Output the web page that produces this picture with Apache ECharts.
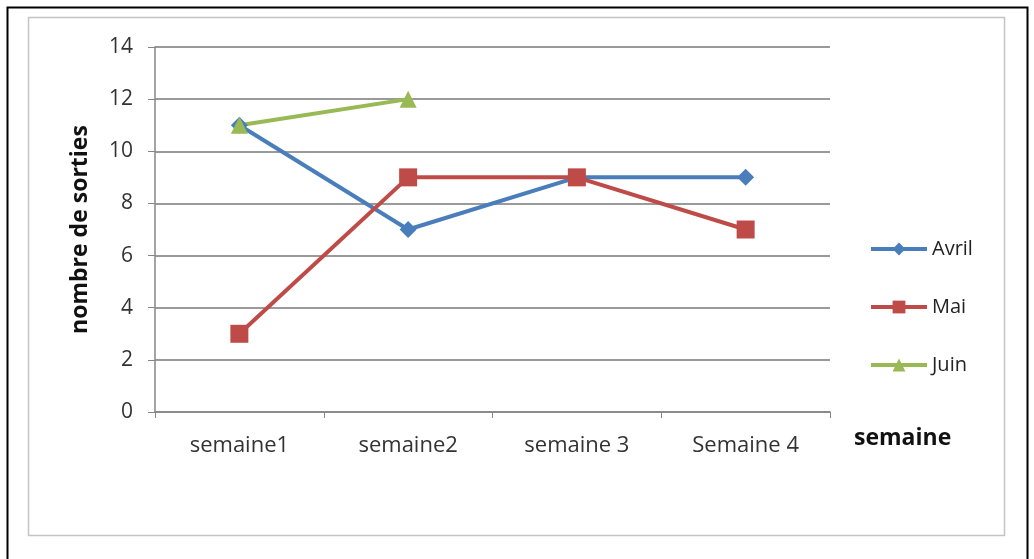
<!DOCTYPE html>
<html>
<head>
<meta charset="utf-8">
<script src="https://cdn.jsdelivr.net/npm/echarts@6/dist/echarts.min.js"></script>
<style>
  html, body { margin: 0; padding: 0; background: #fff; }
  #main { width: 1034px; height: 559px; }
</style>
</head>
<body>
<div id="main"></div>
<script>
// données
const categories = ["semaine1", "semaine2", "semaine 3", "Semaine 4"];
const avril = [11, 7, 9, 9];
const mai = [3, 9, 9, 7];
const juin = [11, 12, null, null];
const yTicks = [0, 2, 4, 6, 8, 10, 12, 14];

const font = "Open Sans";

const chart = echarts.init(document.getElementById("main"));
const option = {
    animation: false,
    textStyle: { fontFamily: font },
    graphic: [
        {
            type: "rect",
            shape: { x: 7.5, y: 7.5, width: 1020, height: 560 },
            style: { fill: "#fff", stroke: "#000", lineWidth: 2 },
            z: -10,
        },
        {
            type: "rect",
            shape: { x: 28.5, y: 17.5, width: 976, height: 518 },
            style: { fill: "#fff", stroke: "#c4c4c4", lineWidth: 1.5 },
            z: -9,
        },
    ],
    legend: {
        orient: "vertical",
        left: 864,
        top: 234,
        itemGap: 38,
        itemWidth: 56,
        itemHeight: 16,
        lineStyle: { width: 4 },
        textStyle: { fontFamily: font, fontSize: 20, color: "#222" },
        data: ["Avril", "Mai", "Juin"],
    },
    grid: {
        left: 155,
        right: 204,
        top: 47,
        bottom: 147,
    },
    xAxis: {
        type: "category",
        data: categories,
        boundaryGap: true,
        name: "semaine",
        nameLocation: "end",
        nameGap: 24,
        nameTextStyle: {
            fontFamily: font,
            fontSize: 23,
            fontWeight: "bold",
            color: "#111",
            verticalAlign: "top",
            padding: [15, 0, 0, 0],
        },
        axisLine: { lineStyle: { color: "#868686", width: 1.5 } },
        axisTick: { show: true, length: 6, lineStyle: { color: "#868686" } },
        axisLabel: {
            margin: 23,
            fontFamily: font,
            fontSize: 22,
            color: "#333",
        },
        splitLine: { show: false },
    },
    yAxis: {
        type: "value",
        min: yTicks[0],
        max: yTicks[yTicks.length - 1],
        interval: 2,
        name: "nombre de sorties",
        nameLocation: "middle",
        nameGap: 63,
        nameTextStyle: {
            fontFamily: font,
            fontSize: 23,
            fontWeight: "bold",
            color: "#111",
        },
        axisLine: { show: true, lineStyle: { color: "#868686", width: 1.5 } },
        axisTick: { show: true, length: 7, lineStyle: { color: "#868686" } },
        axisLabel: {
            margin: 22,
            fontFamily: font,
            fontSize: 21,
            color: "#333",
        },
        splitLine: { show: true, lineStyle: { color: "#9a9a9a", width: 2 } },
    },
    series: [
        {
            name: "Avril",
            type: "line",
            data: avril,
            symbol: "diamond",
            symbolSize: 17,
            lineStyle: { color: "#4a7ebb", width: 4 },
            itemStyle: { color: "#4a7ebb" },
        },
        {
            name: "Mai",
            type: "line",
            data: mai,
            symbol: "rect",
            symbolSize: 18,
            lineStyle: { color: "#be4b48", width: 4 },
            itemStyle: { color: "#be4b48" },
        },
        {
            name: "Juin",
            type: "line",
            data: juin,
            symbol: "triangle",
            symbolSize: 17,
            lineStyle: { color: "#98b954", width: 4 },
            itemStyle: { color: "#98b954" },
        },
    ],
};
chart.setOption(option);
</script>
</body>
</html>
